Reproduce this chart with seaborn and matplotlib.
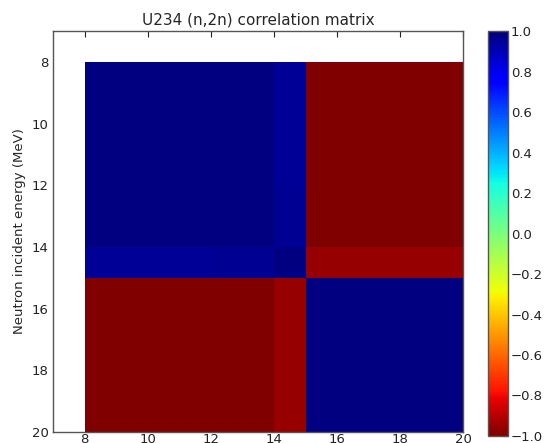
import numpy as np
import pandas as pd
import matplotlib
matplotlib.use("Agg")
import matplotlib.pyplot as plt
import seaborn as sns

# energy group edges (MeV) and group-to-group correlation values
edges = [8, 12, 14, 15, 16, 20]
corr = [
    [1.00, 1.00, 0.955, -1.00, -1.00],
    [1.00, 1.00, 0.965, -1.00, -1.00],
    [0.955, 0.965, 1.00, -0.955, -0.96],
    [-1.00, -1.00, -0.955, 1.00, 1.00],
    [-1.00, -1.00, -0.96, 1.00, 1.00],
]
axis_ticks = [8, 10, 12, 14, 16, 18, 20]
cbar_ticks = [-1.0, -0.8, -0.6, -0.4, -0.2, 0.0, 0.2, 0.4, 0.6, 0.8, 1.0]
title = "U234 (n,2n) correlation matrix"
ylabel = "Neutron incident energy (MeV)"

# spread each group over 1 MeV cells so the heatmap grid follows the energy scale
widths = np.diff(edges)
grid = np.repeat(np.repeat(np.array(corr), widths, axis=0), widths, axis=1)
energies = np.arange(edges[0], edges[-1])
df = pd.DataFrame(grid, index=energies, columns=energies)

sns.set_style("white")
plt.rcParams["font.family"] = ["DejaVu Sans"]

fig = plt.figure(figsize=(5.47, 4.43), dpi=100)
ax = fig.add_axes([0.097, 0.025, 0.75, 0.905])
cax = fig.add_axes([0.892, 0.016, 0.037, 0.913])

sns.heatmap(df, ax=ax, cmap="jet_r", vmin=-1, vmax=1, cbar_ax=cax,
            xticklabels=False, yticklabels=False,
            cbar_kws={"ticks": cbar_ticks})

# heatmap cell i sits at position i, i.e. energy edges[0] + i
e0 = edges[0]
ax.set_xlim(7 - e0, edges[-1] - e0)
ax.set_ylim(edges[-1] - e0, 7 - e0)
ax.set_xticks([t - e0 for t in axis_ticks])
ax.set_xticklabels([str(t) for t in axis_ticks], rotation=0)
ax.set_yticks([t - e0 for t in axis_ticks])
ax.set_yticklabels([str(t) for t in axis_ticks], rotation=0)
ax.tick_params(direction="in", length=4, width=0.8, top=True, right=True,
               labelsize=9.5, colors="#222222", pad=3)
ax.tick_params(axis="x", pad=1)
for s in ax.spines.values():
    s.set_visible(True)
    s.set_color("#555555")
    s.set_linewidth(1.0)

ax.set_title(title, fontsize=11, pad=5)
ax.set_ylabel(ylabel, fontsize=9.5)
ax.set_xlabel("")

cb = ax.collections[0].colorbar
cb.outline.set_visible(True)
cb.outline.set_linewidth(1.0)
cb.outline.set_edgecolor("#555555")
cb.ax.tick_params(direction="in", length=4, width=0.8, labelsize=9.5,
                  colors="#222222", pad=2)
cb.ax.set_yticklabels([f"{t:.1f}".replace("-", "\u2212") for t in cbar_ticks])

fig.savefig("out.png", dpi=100)
